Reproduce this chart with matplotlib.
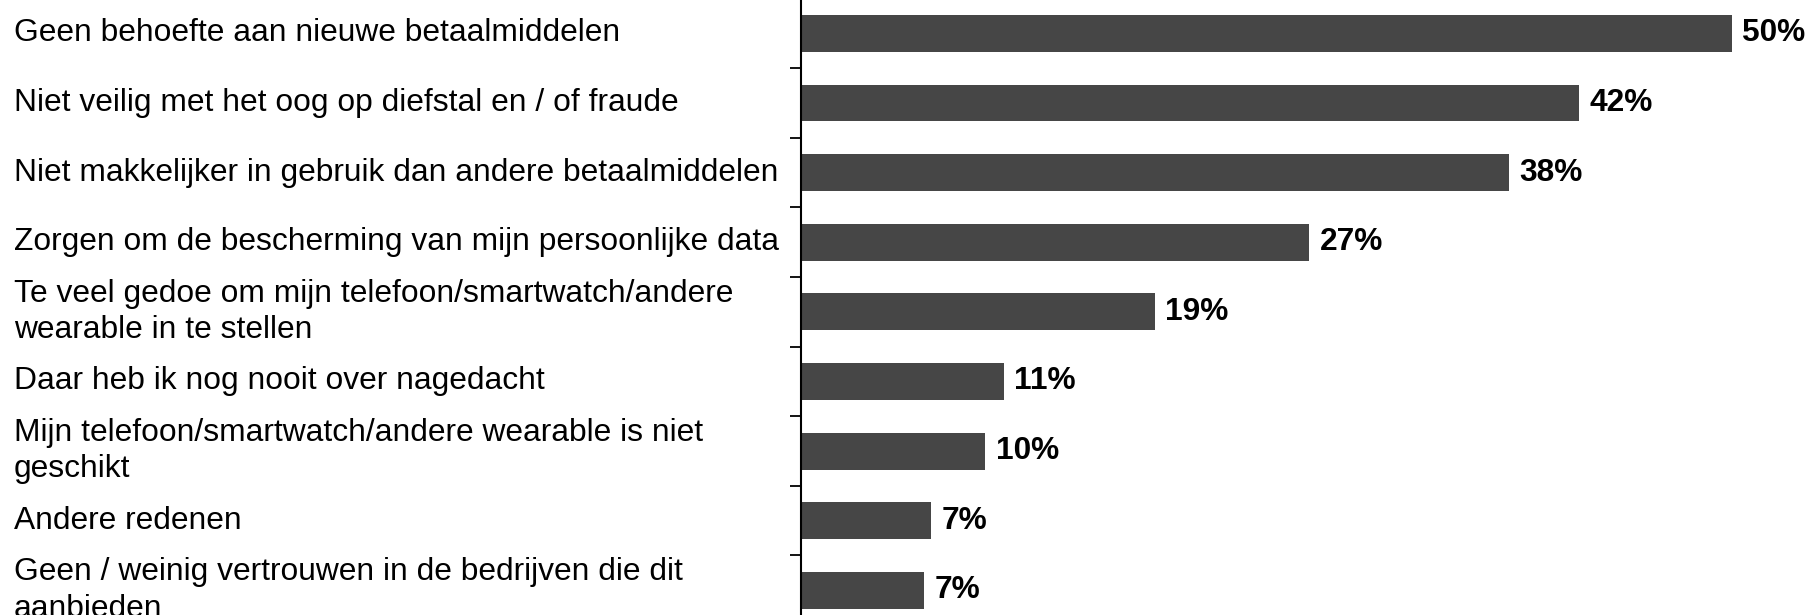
import matplotlib
matplotlib.use("Agg")
import matplotlib.pyplot as plt
import matplotlib.transforms as mtransforms
import numpy as np

plt.rcParams['font.family'] = ['Liberation Sans', 'DejaVu Sans']

categories = [
    "Geen behoefte aan nieuwe betaalmiddelen",
    "Niet veilig met het oog op diefstal en / of fraude",
    "Niet makkelijker in gebruik dan andere betaalmiddelen",
    "Zorgen om de bescherming van mijn persoonlijke data",
    "Te veel gedoe om mijn telefoon/smartwatch/andere\nwearable in te stellen",
    "Daar heb ik nog nooit over nagedacht",
    "Mijn telefoon/smartwatch/andere wearable is niet\ngeschikt",
    "Andere redenen",
    "Geen / weinig vertrouwen in de bedrijven die dit\naanbieden",
]
values = [50, 41.8, 38.0, 27.3, 19.0, 10.9, 9.9, 7.0, 6.6]

bar_color = "#464646"

fig = plt.figure(figsize=(18.11, 6.15), dpi=100)
ax = fig.add_axes([801 / 1811, 0, 1 - 801 / 1811, 1])

y = np.arange(len(categories))
ax.barh(y, values, height=0.53, color=bar_color)

ax.set_xlim(0, 1010 / 18.62)
ax.set_ylim(8.355, -0.48)

for s in ["top", "right", "bottom"]:
    ax.spines[s].set_visible(False)
ax.spines["left"].set_linewidth(1.5)
ax.set_xticks([])
ax.set_yticks([])
ax.set_yticks(np.arange(0.5, len(categories) - 1, 1), minor=True)
ax.tick_params(axis="y", which="minor", direction="out", length=8, width=1.3)

# category labels, left aligned at the figure edge
trans = mtransforms.blended_transform_factory(fig.transFigure, ax.transData)
for yi, lab in zip(y, categories):
    ax.text(14 / 1811, yi, lab, transform=trans, ha="left", va="center",
            fontsize=22.9, linespacing=1.28, clip_on=False)

# value labels
for yi, v in zip(y, values):
    ax.text(v + 0.55, yi, f"{round(v):d}%", ha="left", va="center",
            fontsize=22.8, fontweight="bold")

fig.savefig("out.png", dpi=100)
